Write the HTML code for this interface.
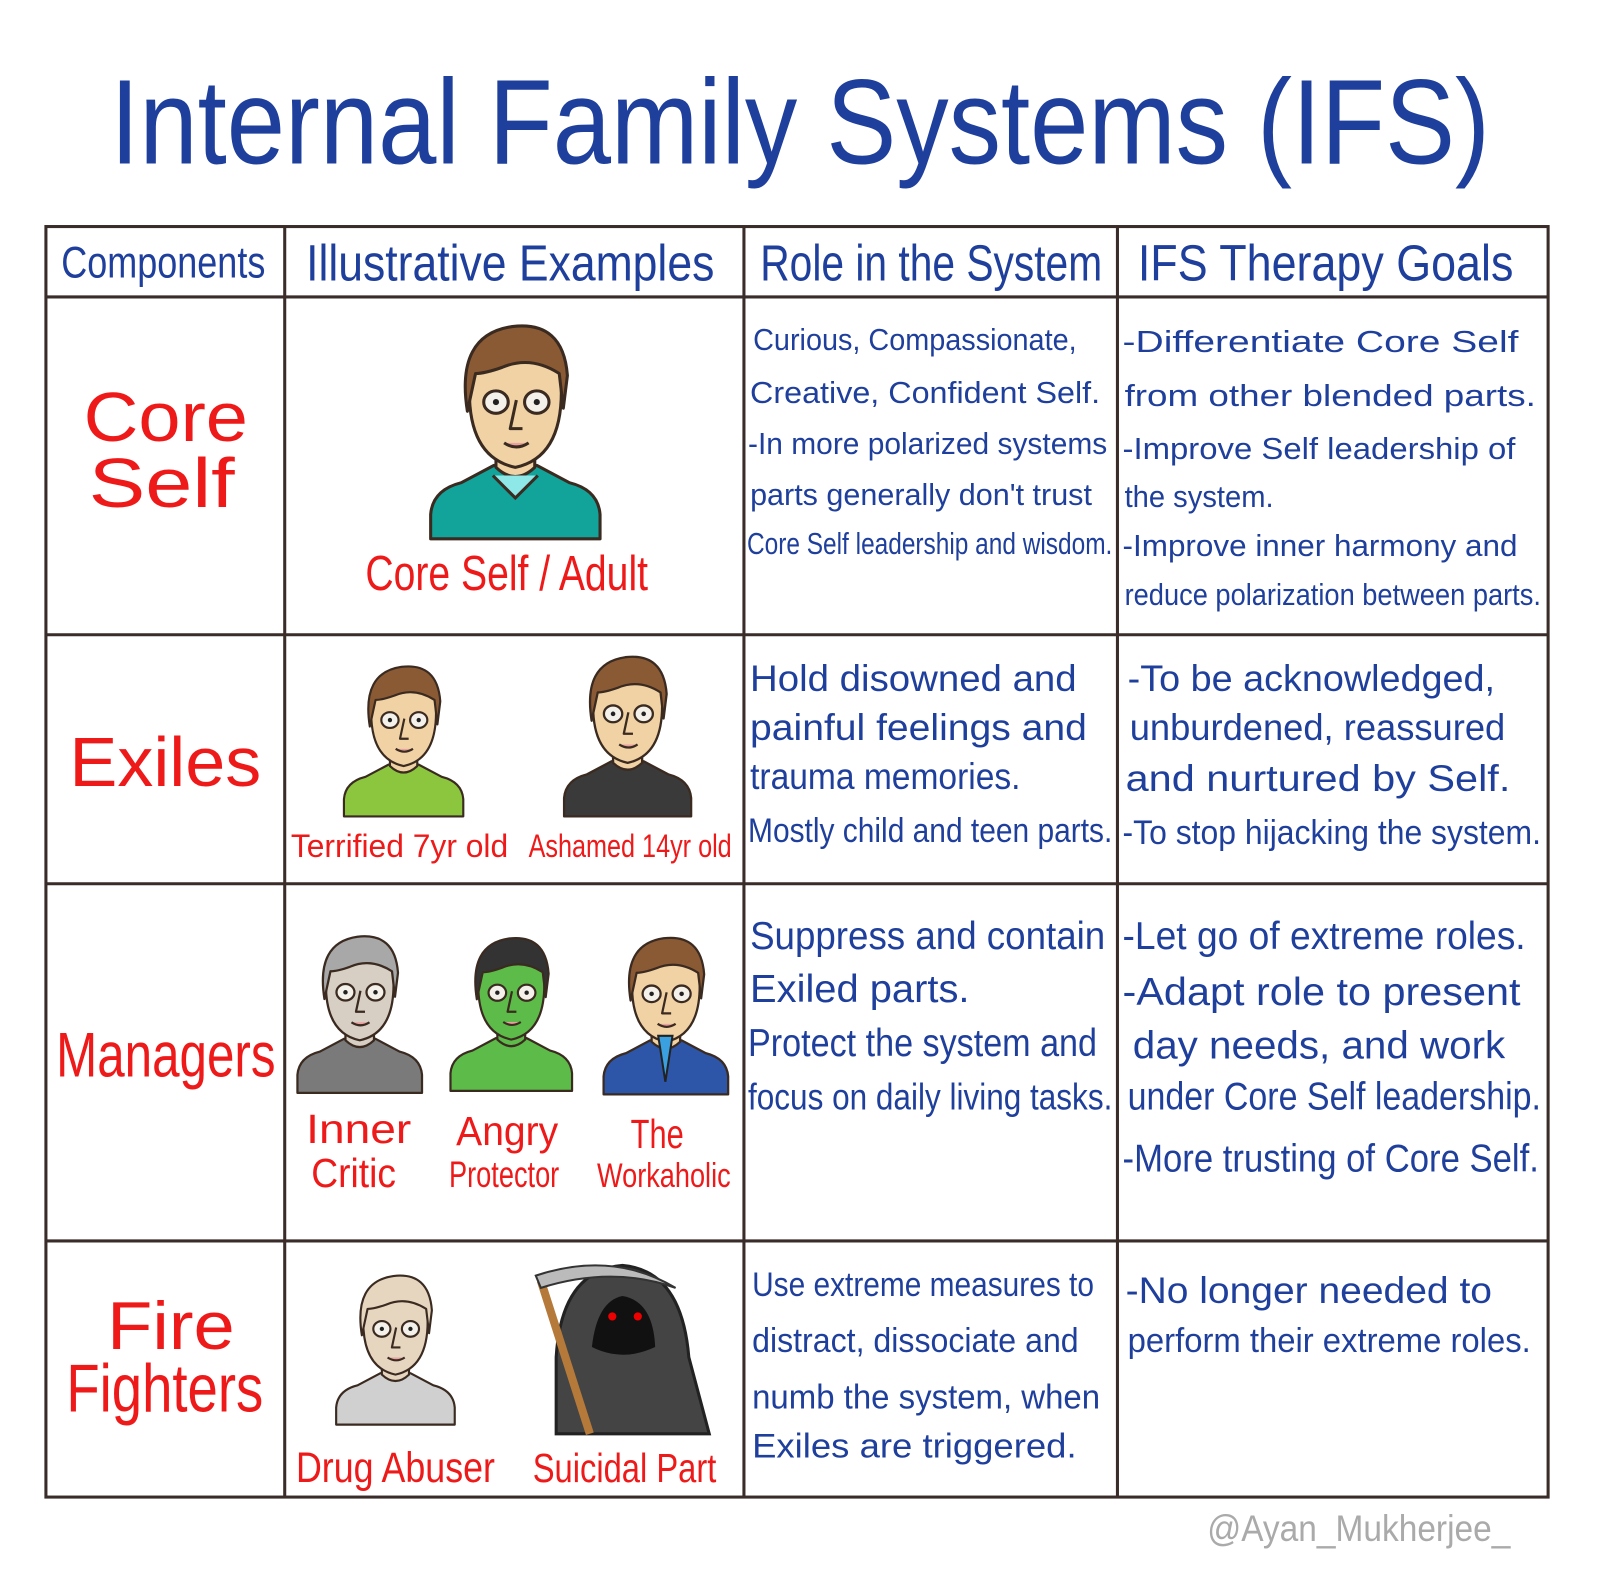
<!DOCTYPE html>
<html><head><meta charset="utf-8"><style>
html,body{margin:0;padding:0;background:#fff}
svg{display:block}
.b{fill:#1f3f9c;font-family:"Liberation Sans",sans-serif;font-size:30px}
.r{fill:#ee1a1a;font-family:"Liberation Sans",sans-serif}
.h{fill:#1f3f9c;font-family:"Liberation Sans",sans-serif}
</style></head><body>
<svg width="1600" height="1581" viewBox="0 0 1600 1581" xmlns="http://www.w3.org/2000/svg">
<defs>
<symbol id="p" viewBox="0 0 170 220" overflow="visible">
<g stroke="#3a2a20" stroke-width="3" stroke-linejoin="round">
<path d="M2,220 L2,196 Q4,172 32,165 L64,148 L106,148 L138,165 Q166,172 168,196 L168,220 Z" fill="var(--shirt)"/>
<path d="M66,118 L66,150 Q85,168 104,150 L104,118 Z" fill="var(--skin)"/>
<path d="M40,70 Q38,140 85,150 Q132,140 130,70 Q128,30 85,30 Q42,30 40,70 Z" fill="var(--skin)"/>
<path d="M38,95 Q26,20 82,12 Q132,6 136,60 L132,92 L128,58 Q100,40 72,52 Q55,58 46,58 Z" fill="var(--hair)"/>
<ellipse cx="66" cy="86" rx="12" ry="11" fill="#f4f0ea"/>
<ellipse cx="106" cy="86" rx="12" ry="11" fill="#f4f0ea"/>
<path d="M86,84 L80,112 L92,112" fill="none"/>
<path d="M74,126 Q86,134 98,126" fill="#e9a0a0"/>
</g>
<circle cx="66" cy="86" r="3" fill="#222"/><circle cx="106" cy="86" r="3" fill="#222"/>
</symbol>
</defs>
<g transform="scale(1.0205)">
<text x="108" y="160" class="h" font-size="118" textLength="1352" lengthAdjust="spacingAndGlyphs">Internal Family Systems (IFS)</text>

<g stroke="#3a2c28" stroke-width="3" fill="none">
<rect x="45" y="222" width="1472" height="1245"/>
<line x1="279" y1="222" x2="279" y2="1467"/>
<line x1="729" y1="222" x2="729" y2="1467"/>
<line x1="1095" y1="222" x2="1095" y2="1467"/>
<line x1="45" y1="291" x2="1517" y2="291"/>
<line x1="45" y1="622" x2="1517" y2="622"/>
<line x1="45" y1="866" x2="1517" y2="866"/>
<line x1="45" y1="1216" x2="1517" y2="1216"/>
</g>

<text x="60" y="272" class="h" font-size="44" textLength="200" lengthAdjust="spacingAndGlyphs">Components</text>
<text x="300" y="275" class="h" font-size="50" textLength="400" lengthAdjust="spacingAndGlyphs">Illustrative Examples</text>
<text x="745" y="275" class="h" font-size="50" textLength="335" lengthAdjust="spacingAndGlyphs">Role in the System</text>
<text x="1115" y="275" class="h" font-size="50" textLength="368" lengthAdjust="spacingAndGlyphs">IFS Therapy Goals</text>

<text x="82" y="432" class="r" font-size="68" textLength="161" lengthAdjust="spacingAndGlyphs">Core</text>
<text x="87" y="497" class="r" font-size="68" textLength="143" lengthAdjust="spacingAndGlyphs">Self</text>
<text x="68" y="770" class="r" font-size="68" textLength="188" lengthAdjust="spacingAndGlyphs">Exiles</text>
<text x="55" y="1055" class="r" font-size="62" textLength="215" lengthAdjust="spacingAndGlyphs">Managers</text>
<text x="105" y="1322" class="r" font-size="66" textLength="125" lengthAdjust="spacingAndGlyphs">Fire</text>
<text x="65" y="1383" class="r" font-size="66" textLength="193" lengthAdjust="spacingAndGlyphs">Fighters</text>

<g class="b">
<text x="738" y="343" textLength="317" lengthAdjust="spacingAndGlyphs">Curious, Compassionate,</text>
<text x="735" y="395" textLength="343" lengthAdjust="spacingAndGlyphs">Creative, Confident Self.</text>
<text x="733" y="445" textLength="352" lengthAdjust="spacingAndGlyphs">-In more polarized systems</text>
<text x="735" y="495" textLength="335" lengthAdjust="spacingAndGlyphs">parts generally don't trust</text>
<text x="732" y="543" textLength="358" lengthAdjust="spacingAndGlyphs">Core Self leadership and wisdom.</text>
<text x="1100" y="345" textLength="388" lengthAdjust="spacingAndGlyphs">-Differentiate Core Self</text>
<text x="1102" y="398" textLength="403" lengthAdjust="spacingAndGlyphs">from other blended parts.</text>
<text x="1100" y="450" textLength="385" lengthAdjust="spacingAndGlyphs">-Improve Self leadership of</text>
<text x="1102" y="497" textLength="146" lengthAdjust="spacingAndGlyphs">the system.</text>
<text x="1100" y="545" textLength="387" lengthAdjust="spacingAndGlyphs">-Improve inner harmony and</text>
<text x="1102" y="593" textLength="408" lengthAdjust="spacingAndGlyphs">reduce polarization between parts.</text>

<text x="735" y="677" textLength="320" lengthAdjust="spacingAndGlyphs" font-size="36">Hold disowned and</text>
<text x="735" y="725" textLength="330" lengthAdjust="spacingAndGlyphs" font-size="36">painful feelings and</text>
<text x="735" y="773" textLength="265" lengthAdjust="spacingAndGlyphs" font-size="36">trauma memories.</text>
<text x="733" y="825" textLength="357" lengthAdjust="spacingAndGlyphs" font-size="34">Mostly child and teen parts.</text>
<text x="1105" y="677" textLength="360" lengthAdjust="spacingAndGlyphs" font-size="36">-To be acknowledged,</text>
<text x="1107" y="725" textLength="368" lengthAdjust="spacingAndGlyphs" font-size="36">unburdened, reassured</text>
<text x="1103" y="775" textLength="377" lengthAdjust="spacingAndGlyphs" font-size="36">and nurtured by Self.</text>
<text x="1100" y="827" textLength="410" lengthAdjust="spacingAndGlyphs" font-size="34">-To stop hijacking the system.</text>

<text x="735" y="930" textLength="348" lengthAdjust="spacingAndGlyphs" font-size="38">Suppress and contain</text>
<text x="735" y="982" textLength="215" lengthAdjust="spacingAndGlyphs" font-size="38">Exiled parts.</text>
<text x="733" y="1035" textLength="342" lengthAdjust="spacingAndGlyphs" font-size="38">Protect the system and</text>
<text x="733" y="1087" textLength="357" lengthAdjust="spacingAndGlyphs" font-size="36">focus on daily living tasks.</text>
<text x="1100" y="930" textLength="395" lengthAdjust="spacingAndGlyphs" font-size="38">-Let go of extreme roles.</text>
<text x="1100" y="985" textLength="390" lengthAdjust="spacingAndGlyphs" font-size="38">-Adapt role to present</text>
<text x="1110" y="1037" textLength="365" lengthAdjust="spacingAndGlyphs" font-size="38">day needs, and work</text>
<text x="1105" y="1087" textLength="405" lengthAdjust="spacingAndGlyphs" font-size="38">under Core Self leadership.</text>
<text x="1100" y="1148" textLength="408" lengthAdjust="spacingAndGlyphs" font-size="38">-More trusting of Core Self.</text>

<text x="737" y="1270" textLength="335" lengthAdjust="spacingAndGlyphs" font-size="34">Use extreme measures to</text>
<text x="737" y="1325" textLength="320" lengthAdjust="spacingAndGlyphs" font-size="34">distract, dissociate and</text>
<text x="737" y="1380" textLength="341" lengthAdjust="spacingAndGlyphs" font-size="34">numb the system, when</text>
<text x="737" y="1428" textLength="318" lengthAdjust="spacingAndGlyphs" font-size="34">Exiles are triggered.</text>
<text x="1103" y="1277" textLength="359" lengthAdjust="spacingAndGlyphs" font-size="36">-No longer needed to</text>
<text x="1105" y="1325" textLength="395" lengthAdjust="spacingAndGlyphs" font-size="34">perform their extreme roles.</text>
</g>

<use href="#p" x="420" y="308" width="170" height="220" style="--skin:#f0d2a4;--hair:#8a5a35;--shirt:#12a39a"/>
<path d="M483,466 L505,488 L527,466" stroke="#3a2a20" stroke-width="3" fill="#8ee8e8"/>
<use href="#p" x="333" y="645" width="125" height="155" style="--skin:#f0d2a4;--hair:#8a5a35;--shirt:#8cc63f"/>
<use href="#p" x="548" y="635" width="134" height="165" style="--skin:#f0d2a4;--hair:#8a5a35;--shirt:#3a3a3a"/>
<use href="#p" x="290" y="907" width="125" height="166" style="--skin:#d8cfc4;--hair:#a8a8a8;--shirt:#7a7a7a"/>
<use href="#p" x="440" y="907" width="122" height="166" style="--skin:#5dbb4a;--hair:#333;--shirt:#5dbb4a"/>
<use href="#p" x="590" y="910" width="125" height="163" style="--skin:#f0d2a4;--hair:#8a5a35;--shirt:#2d55a8"/>
<path d="M645,1015 L652,1060 L659,1015 Z" fill="#3aa0e0" stroke="#222" stroke-width="2"/>
<use href="#p" x="328" y="1233" width="119" height="172" style="--skin:#e6d6c0;--hair:#e6d6c0;--shirt:#d0d0d0"/>
<path d="M545,1405 L545,1330 Q550,1245 610,1240 Q668,1245 675,1330 L695,1405 Z" fill="#444" stroke="#222" stroke-width="3"/>
<path d="M580,1320 Q585,1275 610,1270 Q640,1275 642,1320 Q610,1335 580,1320 Z" fill="#111"/>
<circle cx="600" cy="1290" r="4" fill="#e00"/><circle cx="625" cy="1290" r="4" fill="#e00"/>
<line x1="530" y1="1255" x2="578" y2="1405" stroke="#b5793a" stroke-width="8"/>
<path d="M525,1250 Q600,1225 662,1262 Q600,1240 530,1262 Z" fill="#bbb" stroke="#333" stroke-width="2"/>

<text x="358" y="578" class="r" font-size="48" textLength="277" lengthAdjust="spacingAndGlyphs">Core Self / Adult</text>
<text x="285" y="840" class="r" font-size="32" textLength="213" lengthAdjust="spacingAndGlyphs">Terrified 7yr old</text>
<text x="518" y="840" class="r" font-size="32" textLength="199" lengthAdjust="spacingAndGlyphs">Ashamed 14yr old</text>
<text x="300" y="1120" class="r" font-size="40" textLength="103" lengthAdjust="spacingAndGlyphs">Inner</text>
<text x="305" y="1163" class="r" font-size="40" textLength="83" lengthAdjust="spacingAndGlyphs">Critic</text>
<text x="447" y="1122" class="r" font-size="40" textLength="100" lengthAdjust="spacingAndGlyphs">Angry</text>
<text x="440" y="1163" class="r" font-size="36" textLength="108" lengthAdjust="spacingAndGlyphs">Protector</text>
<text x="618" y="1125" class="r" font-size="40" textLength="52" lengthAdjust="spacingAndGlyphs">The</text>
<text x="585" y="1163" class="r" font-size="34" textLength="131" lengthAdjust="spacingAndGlyphs">Workaholic</text>
<text x="290" y="1452" class="r" font-size="42" textLength="195" lengthAdjust="spacingAndGlyphs">Drug Abuser</text>
<text x="522" y="1452" class="r" font-size="40" textLength="180" lengthAdjust="spacingAndGlyphs">Suicidal Part</text>

<text x="1183" y="1510" font-family="Liberation Sans, sans-serif" font-size="36" fill="#aaa" textLength="297" lengthAdjust="spacingAndGlyphs">@Ayan_Mukherjee_</text>
</g>
</svg>
</body></html>
